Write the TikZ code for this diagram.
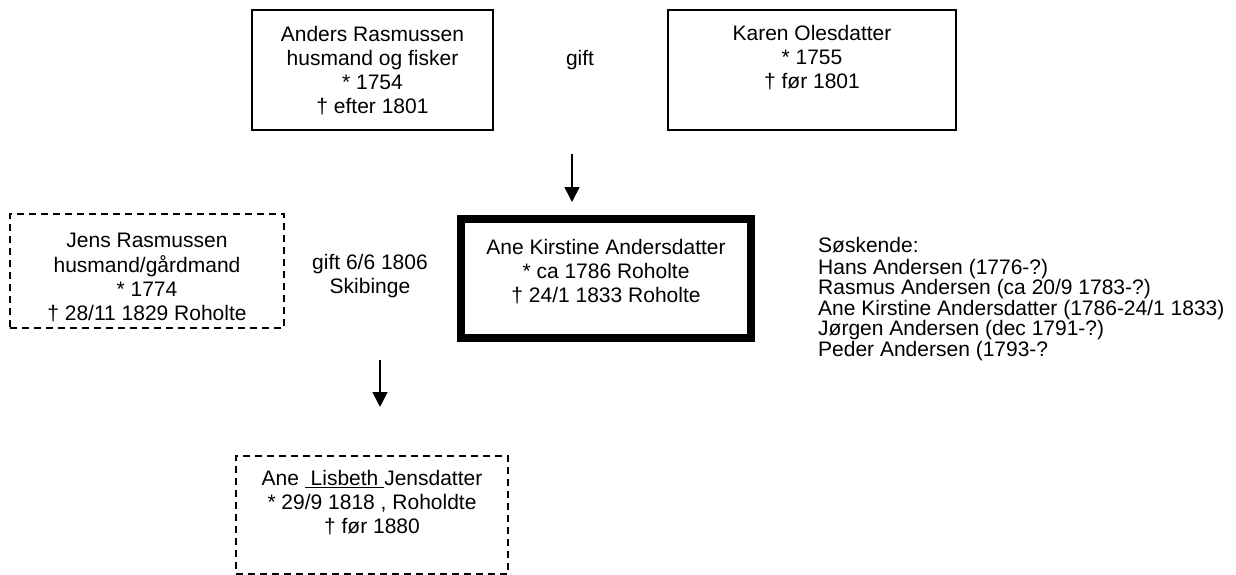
\documentclass[tikz,border=0pt]{standalone}
\usepackage{fontspec}
\setmainfont{Liberation Sans}
\usetikzlibrary{arrows.meta}

\begin{document}
\begin{tikzpicture}[x=1pt, y=-1pt,
    person/.style={draw, line width=1.7pt, inner sep=0pt, outer sep=0pt},
    unsure/.style={person, dash pattern=on 7pt off 5pt},
    self/.style={draw, line width=8pt, inner sep=0pt, outer sep=0pt},
    names/.style={align=center, inner sep=0pt, font=\fontsize{21}{24}\selectfont},
    arrow/.style={line width=1.7pt, -{Triangle[width=15pt,length=15pt]}}]
    \useasboundingbox (0, 0) rectangle (1236, 575);

    % parents
    \node [person, minimum width=241pt, minimum height=120pt] (anders) at (372.5, 70) {};
    \node [names, anchor=north] (anders-txt) at (372.5, 24.7)
        {\strut Anders Rasmussen\\husmand og fisker\\* 1754\\† efter 1801};
    \node [person, minimum width=288pt, minimum height=120pt] (karen) at (812, 70) {};
    \node [names, anchor=north] (karen-txt) at (812, 23.7)
        {\strut Karen Olesdatter\\* 1755\\† før 1801};
    \node [names, anchor=base] (gift1) at (580, 65.5) {gift};

    \coordinate (down1) at (572, 154);
    \coordinate (down1-tip) at (572, 202);
    \draw [arrow] (down1) -- (down1-tip);

    % couple
    \node [unsure, minimum width=274pt, minimum height=114pt] (jens) at (147, 271) {};
    \node [names, anchor=north] (jens-txt) at (147, 230.7)
        {\strut Jens Rasmussen\\husmand/gårdmand\\* 1774\\† 28/11 1829 Roholte};
    \node [names, anchor=north] (gift2) at (370, 252.7)
        {\strut gift 6/6 1806\\Skibinge};
    \node [self, minimum width=290pt, minimum height=119pt] (ane) at (606, 278.5) {};
    \node [names, anchor=north] (ane-txt) at (606, 237.7)
        {\strut Ane Kirstine Andersdatter\\* ca 1786 Roholte\\† 24/1 1833 Roholte};

    % siblings
    \node [names, align=left, anchor=north west, font=\fontsize{21}{18.4}\selectfont] (siblings) at (818, 237.1)
        {\strut Søskende:\\Hans Andersen (1776-?)\\Rasmus Andersen (ca 20/9 1783-?)\\Ane Kirstine Andersdatter (1786-24/1 1833)\\Jørgen Andersen (dec 1791-?)\\Peder Andersen (1793-?};

    \coordinate (down2) at (380, 360);
    \coordinate (down2-tip) at (380, 407);
    \draw [arrow] (down2) -- (down2-tip);

    % child
    \node [unsure, minimum width=272pt, minimum height=118pt] (lisbeth) at (372, 515) {};
    \node [names, anchor=north] (lisbeth-txt) at (372, 468.7)
        {\strut Ane \underline{\ Lisbeth\ }Jensdatter\\* 29/9 1818 , Roholdte\\† før 1880};
\end{tikzpicture}
\end{document}
